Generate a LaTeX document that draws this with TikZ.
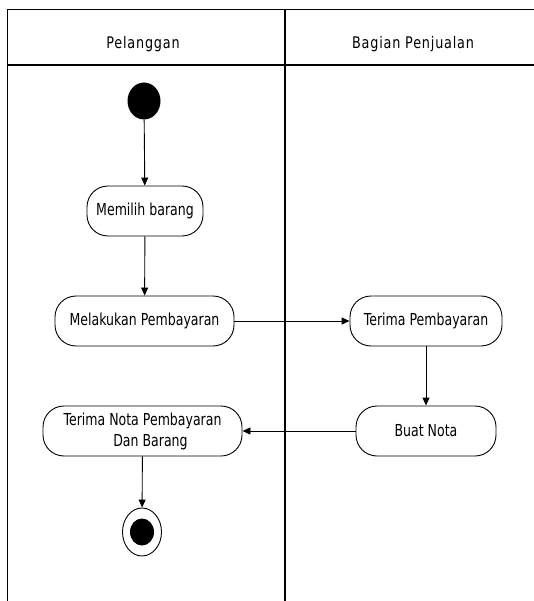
\documentclass[tikz,border=0pt]{standalone}
\usepackage{fontspec}
\setmainfont{DejaVu Sans}[FakeStretch=0.76]
\newfontfamily\lanefont{DejaVu Sans}[FakeStretch=0.8,LetterSpace=5]
\usetikzlibrary{arrows.meta,shapes.geometric}
\begin{document}
\begin{tikzpicture}[x=1pt,y=-1pt,
  lane/.style={line width=1.4pt,draw=black},
  act/.style={draw=black,line width=0.9pt,rounded corners=21pt,minimum height=50pt,
    inner sep=0pt,align=center,font=\fontsize{16.5}{21}\selectfont},
  startnode/.style={ellipse,fill=black,minimum width=33pt,minimum height=37pt,inner sep=0pt},
  flow/.style={line width=0.9pt,-{Triangle[length=8pt,width=7pt]}},
  head/.style={font=\lanefont\fontsize{16}{18}\selectfont}]
\useasboundingbox (0,0) rectangle (534,601);
% swimlanes
\draw[lane] (7.5,601) -- (7.5,9.5) -- (545,9.5);
\draw[lane] (7.5,65) -- (545,65);
\draw[lane] (285,9.5) -- (285,601);
\node[head] (laneA) at (143,44) {Pelanggan};
\node[head] (laneB) at (413,44) {Bagian Penjualan};
% activities
\node[startnode] (start) at (144,101) {};
\node[act,minimum width=116pt] (pilih) at (145,211) {Memilih\ barang};
\node[act,minimum width=179pt] (bayar) at (144.5,321) {Melakukan\ Pembayaran};
\node[act,minimum width=152pt] (terima) at (426,321) {Terima\ Pembayaran};
\node[act,minimum width=140pt] (nota) at (426,431) {Buat\ Nota};
\node[act,minimum width=199pt] (terimanota) at (142.5,431) {Terima\ Nota Pembayaran\\\ \ \ \ Dan Barang};
\node[draw=black,line width=0.9pt,ellipse,minimum width=39pt,minimum height=48pt,inner sep=0pt] (final) at (142,532) {};
\node[ellipse,fill=black,minimum width=24pt,minimum height=27pt,inner sep=0pt] (finalin) at (final.center) {};
% transitions
\draw[flow] (start) -- (pilih);
\draw[flow] (pilih) -- (bayar);
\draw[flow] (bayar) -- (terima);
\draw[flow] (terima) -- (nota);
\draw[flow] (nota) -- (terimanota);
\draw[flow] (terimanota) -- (final);
\end{tikzpicture}
\end{document}
